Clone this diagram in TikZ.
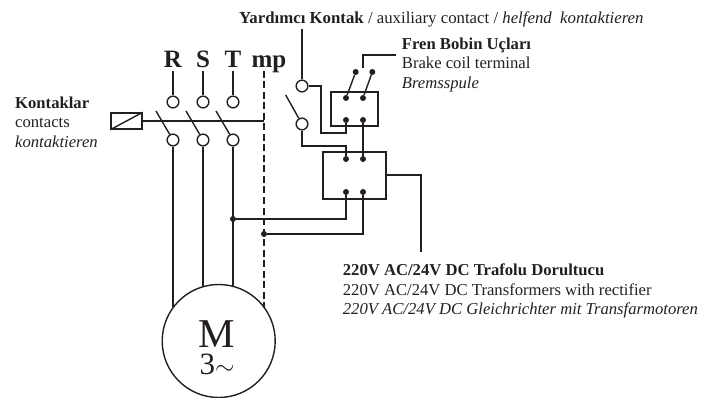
\documentclass[tikz,border=0pt]{standalone}
\usepackage{fontspec}
\setmainfont{Liberation Serif}
\usepackage{xcolor}
\definecolor{wire}{HTML}{231F20}
\usetikzlibrary{positioning}
\begin{document}
\begin{tikzpicture}[
    x=1pt, y=-1pt,
    line/.style={draw=wire, line width=1.4pt},
    bus/.style={draw=wire, line width=1.4pt, dash pattern=on 7pt off 3.5pt},
    term/.style={circle, draw=wire, fill=white, line width=1.4pt, minimum size=11.7pt, inner sep=0pt},
    dot/.style={circle, fill=wire, minimum size=6pt, inner sep=0pt},
    box/.style={rectangle, draw=wire, line width=1.4pt, inner sep=0pt},
    phase/.style={font=\bfseries\fontsize{25}{25}\selectfont, text=wire, anchor=base, inner sep=0pt},
    lbl/.style={font=\fontsize{16.65}{19.4}\selectfont, text=wire, align=left, inner sep=0pt},
  ]
    \useasboundingbox (0,0) rectangle (717,398);
    % Phases
    \node[phase] (r) at (173,68) {R};
    \node[phase] (s) at (203,68) {S};
    \node[phase] (t) at (233,68) {T};
    \node[phase] (mp) at (269,68) {mp};
    \coordinate (pe) at (264,71);
    % Contacts
    \node[term] (r1) at (173,102) {};
    \node[term] (s1) at (203,102) {};
    \node[term] (t1) at (233,102) {};
    \node[term] (r2) at (173,140) {};
    \node[term] (s2) at (203,140) {};
    \node[term] (t2) at (233,140) {};
    \coordinate (rb) at (156,111);
    \coordinate (sb) at (186,111);
    \coordinate (tb) at (216,111);
    \coordinate (rt) at (173,71);
    \coordinate (st) at (203,71);
    \coordinate (tt) at (233,71);
    \draw[line] (rt) -- (r1);
    \draw[line] (st) -- (s1);
    \draw[line] (tt) -- (t1);
    \draw[line] (rb) -- (r2);
    \draw[line] (sb) -- (s2);
    \draw[line] (tb) -- (t2);
    % Coil
    \node[box, minimum width=31pt, minimum height=16pt] (coil) at (126.5,121) {};
    \draw[line] (coil.south west) -- (coil.north east);
    \coordinate (cc) at (264,121);
    \draw[line] (coil.east) -- (cc);
    % Motor
    \node[circle, draw=wire, line width=1.4pt, minimum size=113pt, inner sep=0pt] (mot) at (218.7,341) {};
    \node[font=\fontsize{41}{27}\selectfont, text=wire, inner sep=0pt, align=center, anchor=north] (mm) at (217,320) {M\\{\fontsize{31}{27}\selectfont 3$\sim$}};
    \coordinate (rm) at (173,307);
    \coordinate (sm) at (203,287);
    \coordinate (tm) at (233,287);
    \coordinate (pm) at (264,307);
    \draw[line] (r2) -- (rm);
    \draw[line] (s2) -- (sm);
    \draw[line] (t2) -- (tm);
    \draw[bus] (pe) -- (pm);
    % Auxiliary contact
    \node[term] (a1) at (302,86) {};
    \node[term] (a2) at (302,124) {};
    \coordinate (ab) at (285.7,95);
    \coordinate (at) at (302,29);
    \draw[line] (at) -- (a1);
    \draw[line] (ab) -- (a2);
    % Brake box
    \node[box, minimum width=47pt, minimum height=34pt] (bk) at (354.5,109) {};
    \node[dot] (b1) at (346,98) {};
    \node[dot] (b2) at (363,98) {};
    \node[dot] (b3) at (346,120) {};
    \node[dot] (b4) at (363,120) {};
    \node[dot] (b5) at (355.7,72) {};
    \node[dot] (b6) at (372.3,72) {};
    \draw[line] (b1) -- (b5);
    \draw[line] (b2) -- (b6);
    \coordinate (fa) at (363,68);
    \coordinate (fb) at (396,55);
    \draw[line] (fa) |- (fb);
    % Rectifier box
    \node[box, minimum width=63pt, minimum height=47pt] (rc) at (354.5,175.5) {};
    \node[dot] (c1) at (346,159) {};
    \node[dot] (c2) at (363,159) {};
    \node[dot] (c3) at (346,192) {};
    \node[dot] (c4) at (363,192) {};
    \node[dot] (jt) at (233,219) {};
    \node[dot] (jp) at (264,234) {};
    % Wiring
    \draw[line] (a1) -| (321,133) -| (b3);
    \draw[line] (a2) |- (346,146) -- (c1);
    \draw[line] (b4) -- (c2);
    \draw[line] (c3) |- (jt);
    \draw[line] (c4) |- (jp);
    \coordinate (rk) at (421,252);
    \draw[line] ([yshift=0.5pt]rc.east) -| (rk);
    % Labels
    \node[lbl, anchor=north west] (kon) at (15,96.5) {\textbf{Kontaklar}\\contacts\\\textit{kontaktieren}};
    \node[lbl, anchor=base west, font=\fontsize{16.8}{19.4}\selectfont] (yar) at (239,23.5) {\textbf{Yardımcı Kontak} / auxiliary contact / \textit{helfend\ \ kontaktieren}};
    \node[lbl, anchor=north west] (fren) at (401.7,37.5) {\textbf{Fren Bobin Uçları}\\Brake coil terminal\\\textit{Bremsspule}};
    \node[lbl, anchor=north west] (traf) at (342.7,264) {\textbf{220V AC/24V DC Trafolu Dorultucu}\\220V AC/24V DC Transformers with rectifier\\\textit{220V AC/24V DC Gleichrichter mit Transfarmotoren}};
  \end{tikzpicture}
\end{document}
